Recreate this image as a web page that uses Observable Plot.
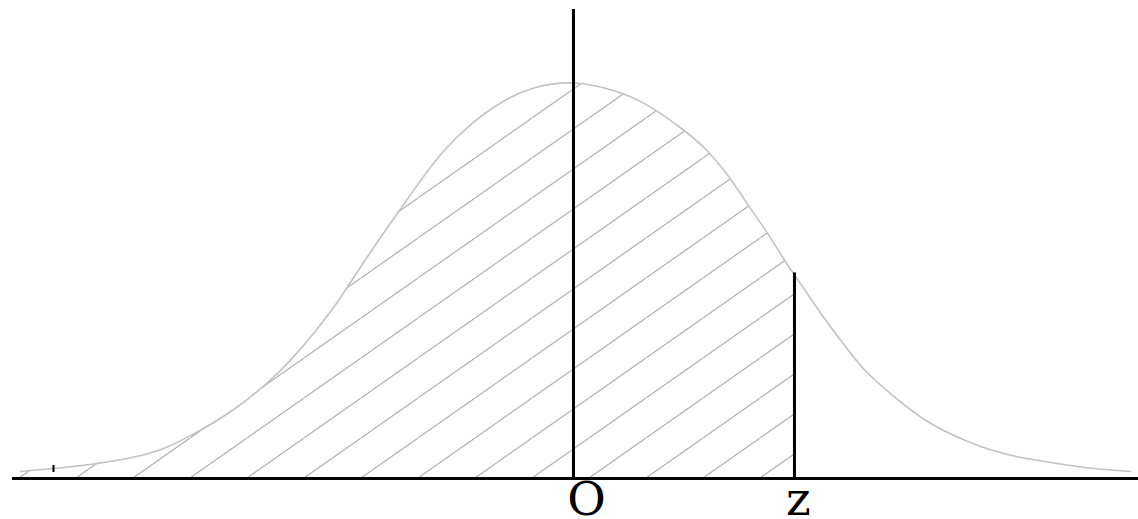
<!DOCTYPE html>
<html>
<head>
<meta charset="utf-8">
<script src="https://cdn.jsdelivr.net/npm/d3@7"></script>
<script src="https://cdn.jsdelivr.net/npm/@observablehq/plot@0.6"></script>
<style>
  html, body { margin: 0; padding: 0; background: #fff; }
  #chart { width: 1138px; height: 519px; overflow: hidden; }
</style>
</head>
<body>
<div id="chart"></div>
<script>
// Bell curve (x in standard units, y = density)
const curveX = [-2.911, -2.737, -2.579, -2.400, -2.226, -2.137, -1.963, -1.789, -1.611, -1.489,
  -1.368, -1.263, -1.226, -1.132, -1.000, -0.874, -0.789, -0.684, -0.558, -0.384, -0.211, 0,
  0.226, 0.384, 0.563, 0.700, 0.826, 0.911, 1.037, 1.121, 1.179, 1.316, 1.421, 1.526, 1.668,
  1.842, 2.021, 2.195, 2.368, 2.547, 2.721, 2.932];
const curveY = [0.007, 0.010, 0.013, 0.018, 0.025, 0.031, 0.048, 0.068, 0.095, 0.118,
  0.145, 0.171, 0.181, 0.209, 0.246, 0.280, 0.303, 0.329, 0.353, 0.378, 0.393, 0.399,
  0.389, 0.376, 0.352, 0.331, 0.301, 0.276, 0.242, 0.215, 0.200, 0.161, 0.135, 0.108, 0.085,
  0.058, 0.041, 0.028, 0.020, 0.015, 0.010, 0.007];
const zValue = 1.163;      // position of z
const zHeight = 0.206;     // curve height at z
const tickX = -2.737;      // small mark at the left tail
const tickY = [0.006, 0.013];
const labelText = ["O", "z"];
const labelX = [0, zValue];

const curve = curveX.map((x, i) => ({x, y: curveY[i]}));
const shaded = curve.filter(d => d.x < zValue).concat([{x: zValue, y: zHeight}]);

const plot = Plot.plot({
  width: 1138,
  height: 519,
  marginLeft: 12,
  marginRight: 0,
  marginTop: 9,
  marginBottom: 41,
  style: {background: "white", overflow: "visible"},
  x: {domain: [-2.9526, 2.9737], axis: null},
  y: {domain: [0, 0.47], axis: null},
  marks: [
    Plot.areaY(shaded, {x: "x", y: "y", fill: "url(#hatch)", curve: "basis"}),
    Plot.line(curve, {x: "x", y: "y", stroke: "#c2c2c2", strokeWidth: 1.6, curve: "basis"}),
    Plot.ruleY([0], {stroke: "#000", strokeWidth: 3}),
    Plot.ruleX([0], {stroke: "#000", strokeWidth: 3}),
    Plot.ruleX([zValue], {y1: 0, y2: zHeight, stroke: "#000", strokeWidth: 3}),
    Plot.ruleX([tickX], {y1: tickY[0], y2: tickY[1], stroke: "#000", strokeWidth: 2}),
    Plot.text([labelText[0]], {x: labelX[0], y: 0, text: d => d, lineAnchor: "bottom", dy: 36, dx: 13,
      fontFamily: "DejaVu Serif", fontSize: 47, fill: "#000"}),
    Plot.text([labelText[1]], {x: labelX[1], y: 0, text: d => d, lineAnchor: "bottom", dy: 36, dx: 4,
      fontFamily: "DejaVu Serif", fontSize: 47, fill: "#000"})
  ]
});

// hatch pattern definition (styling of the shaded area)
const NS = "http://www.w3.org/2000/svg";
const defs = document.createElementNS(NS, "defs");
const pat = document.createElementNS(NS, "pattern");
pat.setAttribute("id", "hatch");
pat.setAttribute("patternUnits", "userSpaceOnUse");
pat.setAttribute("x", "532");
pat.setAttribute("y", "438");
pat.setAttribute("width", "57");
pat.setAttribute("height", "40");
const ln = document.createElementNS(NS, "path");
ln.setAttribute("d", "M-2,41.4L59,-1.4");
ln.setAttribute("stroke", "#b0b0b0");
ln.setAttribute("stroke-width", "1.2");
ln.setAttribute("fill", "none");
pat.appendChild(ln);
defs.appendChild(pat);
plot.insertBefore(defs, plot.firstChild);

document.getElementById("chart").appendChild(plot);
</script>
</body>
</html>
